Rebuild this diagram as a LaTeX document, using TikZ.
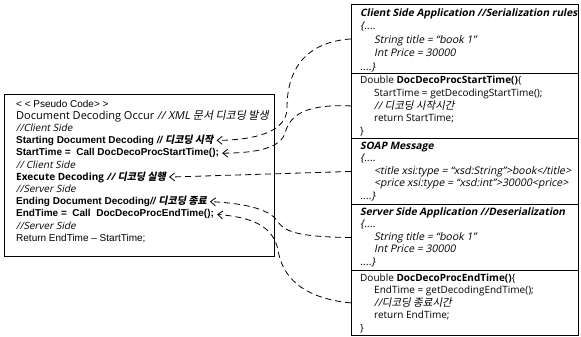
\documentclass[tikz,border=0pt]{standalone}
\usepackage{fontspec}
\setmainfont{Open Sans}[ItalicFont={Open Sans}, ItalicFeatures={FakeSlant=0.2},
  BoldItalicFont={Open Sans Bold}, BoldItalicFeatures={FakeSlant=0.2}]
\newfontfamily\arialfont{Liberation Sans}
\newfontfamily\hangul[FakeSlant=0.2]{Noto Sans CJK KR}
\usetikzlibrary{arrows.meta}
\newcommand{\hg}[1]{{\hangul #1}}

\begin{document}
\begin{tikzpicture}[x=1pt, y=-1pt,
      codebox/.style={draw, line width=0.9pt, anchor=north west, minimum width=227pt,
                      minimum height=66pt, inner sep=0pt},
      ln/.style={anchor=base west, inner sep=0pt},
      pc/.style={ln, font=\fontsize{11}{12}\selectfont},
      cmt/.style={ln, font=\itshape\fontsize{10}{12}\selectfont},
      ar/.style={ln, font=\arialfont\fontsize{10}{12}\selectfont},
      arb/.style={ln, font=\arialfont\bfseries\fontsize{10}{12}\selectfont},
      rt/.style={ln, font=\fontsize{10}{12}\selectfont},
      ri/.style={ln, font=\itshape\fontsize{10.5}{12}\selectfont},
      rh/.style={ln, font=\bfseries\itshape\fontsize{10.2}{12}\selectfont},
      link/.style={dash pattern=on 6pt off 4pt, line width=0.8pt, shorten >=3pt,
                   -{Straight Barb[length=5pt, width=8pt]}},
    ]
    \useasboundingbox (0,0) rectangle (581,337);

    % Pseudo code
    \node[draw, line width=0.9pt, anchor=north west, minimum width=270pt,
          minimum height=162pt, inner sep=0pt] (pseudo) at (4,94) {};
    \node[ar] (pc) at (16,107) {< < Pseudo Code> >};
    \node[pc] (occ) at (16,119.2) {Document Decoding Occur \textit{// XML} \hg{문서 디코딩 발생}};
    \node[cmt] (cs1) at (16,131.4) {//Client Side};
    \node[arb] (sdd) at (16,143.6) {Starting Document Decoding \textit{// \hg{\bfseries 디코딩 시작}}};
    \node[arb] (stt) at (16,155.8) {StartTime =\ \ Call DocDecoProcStartTime();};
    \node[cmt] (cs2) at (16,168) {// Client Side};
    \node[ln, font=\bfseries\fontsize{10}{12}\selectfont] (exd) at (16,180.2)
          {Execute\ Decoding \textit{// \hg{\bfseries 디코딩 실행}}};
    \node[cmt] (ss1) at (16,192.4) {//Server Side};
    \node[arb] (edd) at (16,204.6) {Ending Document Decoding\textit{// \hg{\bfseries 디코딩 종료}}};
    \node[arb] (ett) at (16,216.8) {EndTime =\ \ Call\ \ DocDecoProcEndTime();};
    \node[cmt] (ss2) at (16,229) {//Server Side};
    \node[ar] (ret) at (16,241.2) {Return EndTime – StartTime;};

    % Client side application
    \node[codebox, minimum height=69pt] (cliapp) at (351,4) {};
    \node[rh] (cah) at (360,16.5) {Client Side Application //Serialization rules};
    \node[ri] (ca1) at (360,30) {\{....};
    \node[ri] (ca2) at (374,43.5) {String title = “book 1”};
    \node[ri] (ca3) at (374,57) {Int Price = 30000};
    \node[ri] (ca4) at (360,70.5) {....\}};

    % Start time procedure
    \node[codebox, minimum height=65pt] (stproc) at (351,73) {};
    \node[rt] (sph) at (360,84) {Double \textbf{DocDecoProcStartTime()}\{};
    \node[rt] (sp1) at (374,96.5) {StartTime = getDecodingStartTime();};
    \node[ri] (sp2) at (374,109) {// \hg{디코딩 시작시간}};
    \node[rt] (sp3) at (374,121.5) {return StartTime;};
    \node[rt] (sp4) at (360,134) {\}};

    % SOAP message
    \node[codebox] (soap) at (351,138) {};
    \node[rh] (smh) at (360,149) {SOAP Message};
    \node[ri] (sm1) at (360,161.5) {\{....};
    \node[ri] (sm2) at (374,174) {<title xsi:type = “xsd:String”>book</title>};
    \node[ri] (sm3) at (374,186.5) {<price xsi:type = “xsd:int”>30000<price>};
    \node[ri] (sm4) at (360,199) {....\}};

    % Server side application
    \node[codebox] (srvapp) at (351,204) {};
    \node[rh] (sah) at (360,215) {Server Side Application //Deserialization};
    \node[ri] (sa1) at (360,227.5) {\{....};
    \node[ri] (sa2) at (374,240) {String title = “book 1”};
    \node[ri] (sa3) at (374,252.5) {Int Price = 30000};
    \node[ri] (sa4) at (360,265) {....\}};

    % End time procedure
    \node[codebox, minimum height=65pt] (enproc) at (351,270) {};
    \node[rt] (eph) at (360,281) {Double \textbf{DocDecoProcEndTime()}\{};
    \node[rt] (ep1) at (374,293.5) {EndTime = getDecodingEndTime();};
    \node[ri] (ep2) at (374,306) {//\hg{디코딩 종료시간}};
    \node[rt] (ep3) at (374,318.5) {return EndTime;};
    \node[rt] (ep4) at (360,331) {\}};

    % Links
    \draw[link] (cliapp.west) .. controls (305,42) and (287,70) .. (287,108)
                .. controls (287,132) and (255,140) .. (sdd.east);
    \draw[link] (stproc.west) .. controls (305,104) and (290,115) .. (285,133)
                .. controls (280,150) and (250,153) .. (stt.east);
    \draw[link] (soap.west) -- (exd.east);
    \draw[link] (srvapp.west) .. controls (300,237) and (285,232) .. (278,222)
                .. controls (270,208) and (240,203) .. (edd.east);
    \draw[link] (enproc.west) .. controls (300,298) and (282,275) .. (278,250)
                .. controls (273,225) and (250,217) .. (ett.east);

  \end{tikzpicture}
\end{document}
